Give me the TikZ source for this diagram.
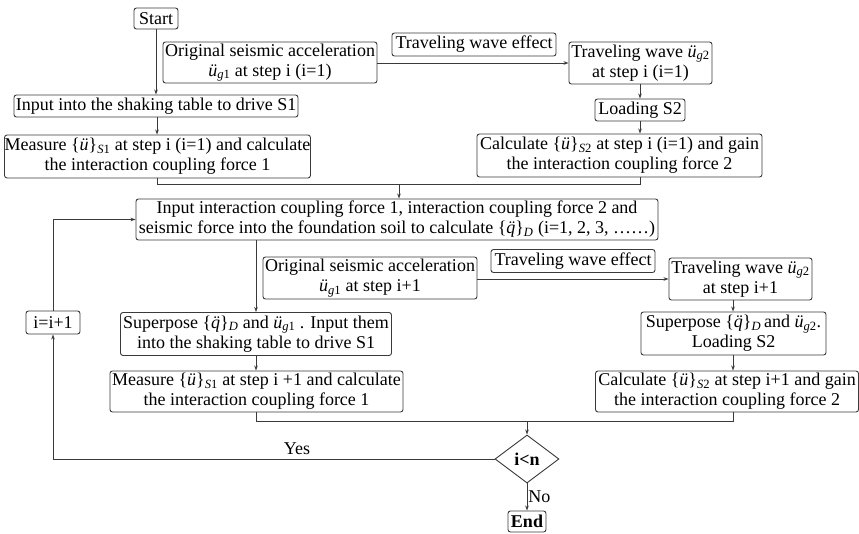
\documentclass[tikz,border=0pt]{standalone}
\usepackage{fontspec}
\setmainfont{Liberation Serif}
\usetikzlibrary{arrows.meta,shapes.geometric,calc}
\definecolor{ln}{HTML}{3A3A3A}
\newcommand{\ug}[1]{\textit{ü}\textsubscript{\textit{g}#1}}
\newcommand{\ub}[1]{\{\textit{ü}\}\textsubscript{\textit{S}#1}}
\newcommand{\qd}{\{\textit{\accent"A8 q}\}\textsubscript{\textit{D}}}
\tikzset{
  box/.style={draw=ln, line width=0.9pt, rounded corners=2.5pt, align=center, inner sep=0pt,
    font=\fontsize{18}{20}\selectfont},
  conn/.style={draw=ln, line width=0.9pt},
  arr/.style={conn, -{Stealth[length=5pt,width=3.5pt]}},
  dec/.style={draw=ln, line width=0.9pt, diamond, aspect=1.33, inner sep=0pt, font=\fontsize{18}{20}\selectfont\bfseries},
  lbl/.style={font=\fontsize{18}{20}\selectfont, inner sep=0pt}
}
\begin{document}
\begin{tikzpicture}[x=1pt,y=-1pt]
\useasboundingbox (0,0) rectangle (859,533);
% nodes
\node[box, minimum width=44pt, minimum height=21pt] (start) at (156,18.5) {Start};
\node[box, minimum width=214pt, minimum height=41pt] (orig1) at (270,62.5) {Original seismic acceleration\\ \ug{1} at step i (i=1)};
\node[box, minimum width=164pt, minimum height=23pt] (twe1) at (474,44.5) {Traveling wave effect};
\node[box, minimum width=143pt, minimum height=42pt] (trav1) at (640.5,63) {Traveling wave \ug{2}\\ at step i (i=1)};
\node[box, minimum width=284pt, minimum height=22pt] (inp1) at (156,106) {Input into the shaking table to drive S1};
\node[box, minimum width=90pt, minimum height=22pt] (load2) at (640,110) {Loading S2};
\node[box, minimum width=301pt, minimum height=43pt] (meas1) at (157.5,156.5) {Measure \ub{1} at step i (i=1) and calculate\\ the interaction coupling force 1};
\node[box, minimum width=285pt, minimum height=43pt] (calc1) at (619.5,155.5) {Calculate \ub{2} at step i (i=1) and gain\\ the interaction coupling force 2};
\node[box, minimum width=522pt, minimum height=41pt] (inter) at (397,219.5) {Input interaction coupling force 1, interaction coupling force 2 and\\ seismic force into the foundation soil to calculate \qd{} (i=1, 2, 3, \dots\dots)};
\node[box, minimum width=214pt, minimum height=42pt] (orig2) at (370,278) {Original seismic acceleration\\ \ug{1} at step i+1};
\node[box, minimum width=164pt, minimum height=23pt] (twe2) at (573,261) {Traveling wave effect};
\node[box, minimum width=143pt, minimum height=42pt] (trav2) at (740.5,279) {Traveling wave \ug{2}\\ at step i+1};
\node[box, minimum width=54pt, minimum height=23pt] (iinc) at (53,322.5) {i=i+1};
\node[box, minimum width=271pt, minimum height=43pt] (sup1) at (256,334) {Superpose \qd{} and \ug{1} . Input them\\ into the shaking table to drive S1};
\node[box, minimum width=185pt, minimum height=43pt] (sup2) at (733.5,333.5) {Superpose \qd\,and \ug{2}.\\ Loading S2};
\node[box, minimum width=293pt, minimum height=41pt] (meas2) at (256.5,391.5) {Measure \ub{1} at step i +1 and calculate\\ the interaction coupling force 1};
\node[box, minimum width=263pt, minimum height=41pt] (calc2) at (727,391.5) {Calculate \ub{2} at step i+1 and gain\\ the interaction coupling force 2};
\node[dec, minimum width=64pt, minimum height=48pt] (dia) at (527,459) {i<n};
\node[box, minimum width=38pt, minimum height=21pt, font=\fontsize{18}{20}\selectfont\bfseries] (end) at (527,521.5) {End};
% junction coordinates
\coordinate (m1) at (157,184);
\coordinate (c1) at (640,184);
\coordinate (j1) at (399,184);
\coordinate (m2) at (256.5,421);
\coordinate (c2) at (733,421);
\coordinate (j2) at (527,421);
\coordinate (ly) at (53,459);
\coordinate (lt) at (53,219.5);
% connectors
\draw[arr] (start.south) -- (start.south |- inp1.north);
\draw[arr] (orig1.east |- trav1.west) -- (trav1.west);
\draw[arr] (inp1.south -| m1) -- (m1 |- meas1.north);
\draw[arr] (trav1.south -| c1) -- (c1 |- load2.north);
\draw[arr] (load2.south -| c1) -- (c1 |- calc1.north);
\draw[conn] (m1 |- meas1.south) -- (m1) -- (c1) -- (c1 |- calc1.south);
\draw[arr] (j1) -- (j1 |- inter.north);
\draw[arr] (sup1.north |- inter.south) -- (sup1.north);
\draw[arr] (orig2.east |- trav2.west) -- (trav2.west);
\draw[arr] (c2 |- trav2.south) -- (c2 |- sup2.north);
\draw[arr] (sup1.south) -- (sup1.south |- meas2.north);
\draw[arr] (c2 |- sup2.south) -- (c2 |- calc2.north);
\draw[conn] (m2 |- meas2.south) -- (m2) -- (c2) -- (c2 |- calc2.south);
\draw[arr] (j2) -- (dia.north);
\draw[arr] (dia.west) -- (ly) -- (iinc.south);
\draw[arr] (iinc.north) -- (lt) -- (inter.west);
\draw[arr] (dia.south) -- node[lbl, right=1pt] {No} (end.north);
\node[lbl] (yes) at (297,449) {Yes};
\end{tikzpicture}
\end{document}
